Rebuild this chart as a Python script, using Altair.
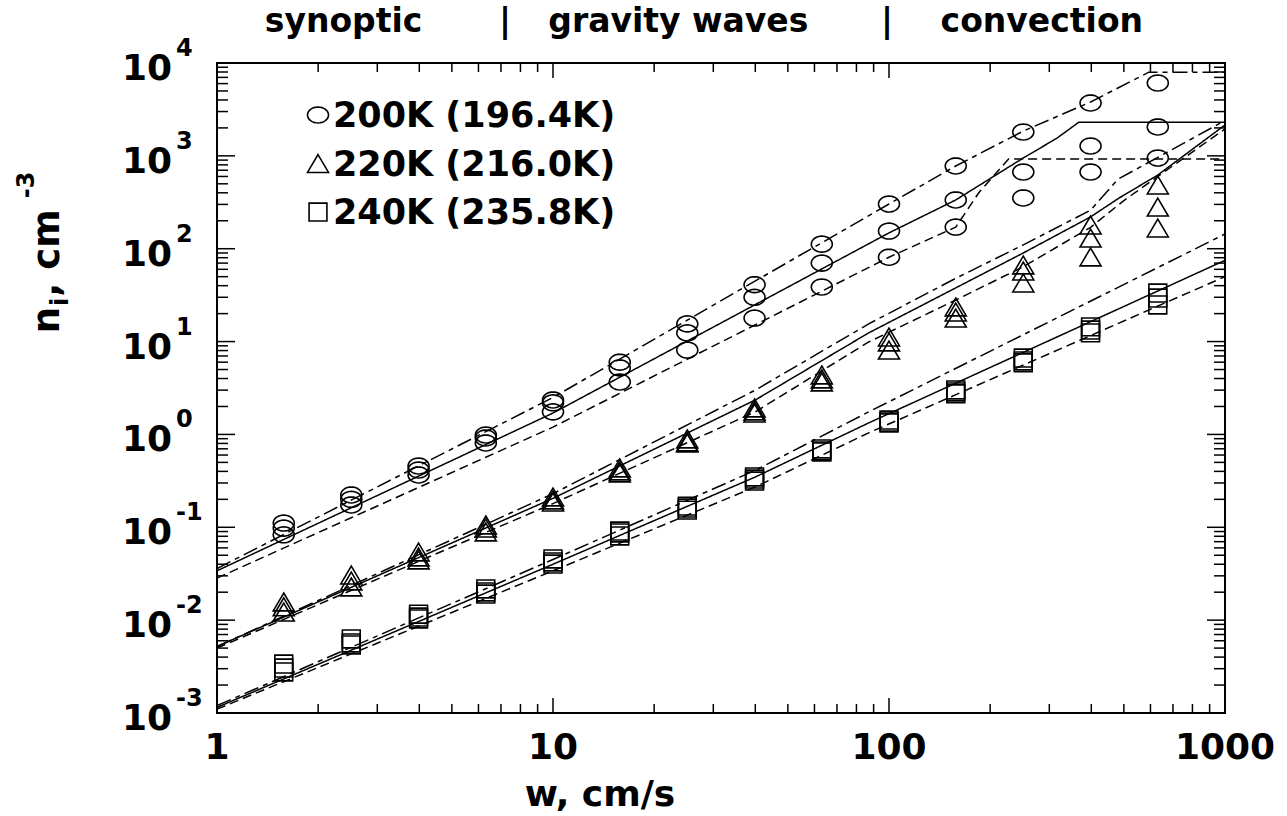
import math
import altair as alt
import pandas as pd

# ---------------- data ----------------
w_sim = [1.58, 2.51, 3.98, 6.31, 10.0, 15.8, 25.1, 39.8, 63.1, 100, 158, 251, 398, 631]

n200_hi = [0.111, 0.223, 0.457, 0.986, 2.35, 6.0, 15.5, 41, 112, 303, 778, 1807, 3710, 6090]
n200_mid = [0.098, 0.200, 0.414, 0.916, 2.19, 5.2, 12.4, 30, 70, 155, 335, 670, 1277, 2047]
n200_lo = [0.083, 0.174, 0.366, 0.809, 1.75, 3.67, 8.1, 17.9, 38.7, 81, 171, 352, 670, 948]

n220_hi = [0.0157, 0.0306, 0.0542, 0.106, 0.212, 0.435, 0.894, 1.93, 4.37, 11.2, 23.6, 66.8, 180, 485]
n220_mid = [0.0139, 0.0264, 0.0479, 0.098, 0.197, 0.404, 0.83, 1.79, 3.96, 9.9, 20.8, 57.5, 130, 281]
n220_lo = [0.0122, 0.0228, 0.0445, 0.089, 0.187, 0.385, 0.81, 1.70, 3.67, 8.1, 17.9, 42.7, 81.5, 167]

n240_hi = [0.00337, 0.00627, 0.0116, 0.0217, 0.0456, 0.0912, 0.169, 0.348, 0.697, 1.43, 3.01, 6.65, 14.4, 33.3]
n240_mid = [0.00305, 0.00568, 0.0108, 0.0201, 0.0423, 0.0869, 0.161, 0.331, 0.664, 1.36, 2.87, 6.18, 13.3, 29.4]
n240_lo = [0.00277, 0.00540, 0.0103, 0.0191, 0.0402, 0.0806, 0.153, 0.315, 0.647, 1.33, 2.74, 5.90, 12.4, 24.8]

# parameterization curves (upper = dash-dot, mid = solid, lower = dashed)
w200_up = [1, 10, 100, 158, 251, 398, 593, 1000]
n200_up = [0.036, 2.5, 303, 778, 1850, 3800, 7960, 7960]
w200_sol = [1, 10, 100, 158, 251, 316, 367, 1000]
n200_sol = [0.034, 1.70, 148, 335, 948, 1550, 2300, 2300]
w200_dn = [1, 10, 100, 158, 185, 227, 1000]
n200_dn = [0.0284, 1.20, 81, 171, 400, 925, 925]

w220_up = [1, 10, 40, 87, 158, 251, 398, 480, 1000]
n220_up = [0.0052, 0.23, 3.0, 15.5, 48, 110, 260, 560, 2400]
w220_sol = [1, 10, 40, 87, 251, 398, 483, 631, 1000]
n220_sol = [0.0052, 0.205, 2.35, 12.4, 90, 220, 350, 622, 2150]
w220_dn = [1, 10, 40, 87, 158, 251, 398, 500, 631, 1000]
n220_dn = [0.005, 0.18, 1.75, 9.9, 28, 64, 170, 330, 600, 1950]

w240_up = [1, 10, 40, 87, 1000]
n240_up = [0.0012, 0.045, 0.41, 1.75, 144]
w240_sol = [1, 10, 40, 87, 1000]
n240_sol = [0.00115, 0.040, 0.348, 1.33, 75]
w240_dn = [1, 10, 40, 87, 1000]
n240_dn = [0.0011, 0.034, 0.272, 1.04, 50]

legend_labels = ["200K (196.4K)", "220K (216.0K)", "240K (235.8K)"]
regime_labels = ["synoptic", "|", "gravity waves", "|", "convection"]
regime_w = [2.38, 7.2, 23.6, 98.6, 285]

x_labels = [1, 10, 100, 1000]
x_ticks_major = [10, 100]
x_ticks_minor = [k * 10 ** e for e in range(0, 3) for k in range(2, 10)]
y_exponents = list(range(-3, 5))
y_ticks_major = [10.0 ** e for e in y_exponents]
y_ticks_minor = [k * 10.0 ** e for e in range(-3, 4) for k in range(2, 10)]

# ---------------- styling ----------------
W, H = 1008, 650
FONT = "DejaVu Sans"
xs = alt.Scale(type="log", domain=[1, 1000], nice=False)
ys = alt.Scale(type="log", domain=[0.001, 10000], nice=False)

ell = ["M1,0"] + ["L%.3f,%.3f" % (math.cos(2 * math.pi * i / 32), 0.76 * math.sin(2 * math.pi * i / 32)) for i in range(1, 32)]
ELLIPSE = "".join(ell) + "Z"
TRIANGLE = "M0,-0.85L1,0.85L-1,0.85Z"
SQUARE = "M-0.85,-0.85L0.85,-0.85L0.85,0.85L-0.85,0.85Z"

groups = [
    ("200K", ELLIPSE, [n200_hi, n200_mid, n200_lo]),
    ("220K", TRIANGLE, [n220_hi, n220_mid, n220_lo]),
    ("240K", SQUARE, [n240_hi, n240_mid, n240_lo]),
]


def X(f):
    return alt.X(f, type="quantitative", scale=xs, axis=None)


def Y(f):
    return alt.Y(f, type="quantitative", scale=ys, axis=None)


txt = dict(font=FONT, fontWeight="bold", color="black")
layers = []

# markers
for temp, shape, series in groups:
    rows = []
    for k, s in enumerate(series):
        for w, n in zip(w_sim, s):
            rows.append({"w": w, "n": n, "run": k})
    df = pd.DataFrame(rows)
    layers.append(
        alt.Chart(df).mark_point(shape=shape, size=441, filled=False, stroke="black",
                                 strokeWidth=1.6, opacity=1)
        .encode(x=X("w"), y=Y("n"), detail="run:N")
    )

# curves
curve_sets = {
    "up": [(w200_up, n200_up), (w220_up, n220_up), (w240_up, n240_up)],
    "sol": [(w200_sol, n200_sol), (w220_sol, n220_sol), (w240_sol, n240_sol)],
    "dn": [(w200_dn, n200_dn), (w220_dn, n220_dn), (w240_dn, n240_dn)],
}
dashes = {"up": [15, 5, 5, 5], "sol": [1, 0], "dn": [9, 5]}
for style, sets in curve_sets.items():
    rows = []
    for k, (ws, ns) in enumerate(sets):
        for i, (w, n) in enumerate(zip(ws, ns)):
            rows.append({"w": w, "n": n, "curve": k, "order": i})
    df = pd.DataFrame(rows)
    mk = alt.Chart(df).mark_line(color="black", strokeWidth=1.5, clip=True,
                                 strokeDash=dashes[style])
    layers.append(mk.encode(x=X("w"), y=Y("n"), detail="curve:N", order="order:Q"))

# ticks (pointing inward on all four sides)
xt_major = pd.DataFrame({"v": x_ticks_major})
xt_minor = pd.DataFrame({"v": x_ticks_minor})
yt_major = pd.DataFrame({"v": y_ticks_major})
yt_minor = pd.DataFrame({"v": y_ticks_minor})
tick = dict(color="black", strokeWidth=1.5)
layers += [
    alt.Chart(xt_major).mark_rule(**tick).encode(x=X("v"), y=alt.value(H), y2=alt.value(H - 15)),
    alt.Chart(xt_major).mark_rule(**tick).encode(x=X("v"), y=alt.value(0), y2=alt.value(15)),
    alt.Chart(xt_minor).mark_rule(**tick).encode(x=X("v"), y=alt.value(H), y2=alt.value(H - 9)),
    alt.Chart(xt_minor).mark_rule(**tick).encode(x=X("v"), y=alt.value(0), y2=alt.value(9)),
    alt.Chart(yt_major).mark_rule(**tick).encode(y=Y("v"), x=alt.value(0), x2=alt.value(18)),
    alt.Chart(yt_major).mark_rule(**tick).encode(y=Y("v"), x=alt.value(W), x2=alt.value(W - 18)),
    alt.Chart(yt_minor).mark_rule(**tick).encode(y=Y("v"), x=alt.value(0), x2=alt.value(11)),
    alt.Chart(yt_minor).mark_rule(**tick).encode(y=Y("v"), x=alt.value(W), x2=alt.value(W - 11)),
]

# x tick labels
xlab = pd.DataFrame({"v": x_labels, "t": [str(v) for v in x_labels]})
layers.append(
    alt.Chart(xlab).mark_text(align="center", baseline="middle", fontSize=36, **txt)
    .encode(x=X("v"), y=alt.value(H + 35), text="t:N")
)
# x title
layers.append(
    alt.Chart(pd.DataFrame({"a": [0]})).mark_text(align="center", baseline="middle", fontSize=36, **txt)
    .encode(x=alt.value(383), y=alt.value(H + 82), text=alt.value("w, cm/s"))
)

# y tick labels 10^e
ylab = pd.DataFrame({"v": y_ticks_major, "e": [str(e) for e in y_exponents]})
layers.append(
    alt.Chart(ylab).mark_text(align="right", baseline="middle", dy=6, fontSize=36, **txt)
    .encode(y=Y("v"), x=alt.value(-45), text=alt.value("10"))
)
layers.append(
    alt.Chart(ylab).mark_text(align="left", baseline="middle", dy=-14, fontSize=24, **txt)
    .encode(y=Y("v"), x=alt.value(-41), text="e:N")
)

# regime labels at top
reg = pd.DataFrame({"w": regime_w, "t": regime_labels})
layers.append(
    alt.Chart(reg).mark_text(align="center", baseline="middle", fontSize=33, **txt)
    .encode(x=X("w"), y=alt.value(-41), text="t:N")
)

# legend
one = pd.DataFrame({"a": [0]})
for i, (lab, (_, shape, _s)) in enumerate(zip(legend_labels, groups)):
    yy = 52 + 48.5 * i
    layers.append(alt.Chart(one).mark_point(shape=shape, size=441, filled=False, stroke="black",
                                            strokeWidth=1.6, opacity=1)
                  .encode(x=alt.value(101), y=alt.value(yy)))
    layers.append(alt.Chart(one).mark_text(align="left", baseline="middle", fontSize=35, **txt)
                  .encode(x=alt.value(116), y=alt.value(yy + 1), text=alt.value(lab)))

# y-axis title n_i, cm^-3 (rotated pieces)
ytitle = [("n", 37, -169, 257), ("i", 24, -156, 239), (", cm", 37, -169, 190), ("-3", 24, -190, 122)]
for t, fs, xx, yy in ytitle:
    layers.append(alt.Chart(one).mark_text(align="center", baseline="middle", angle=270,
                                           fontSize=fs, **txt)
                  .encode(x=alt.value(xx), y=alt.value(yy), text=alt.value(t)))

chart = alt.layer(*layers).properties(
    width=W, height=H,
    padding={"left": 217, "top": 63, "right": 62, "bottom": 103},
    autosize=alt.AutoSizeParams(type="none"),
    background="white",
).configure_view(stroke="black", strokeWidth=2)

chart.save("out.html", embed_options={"renderer": "svg", "actions": False})
